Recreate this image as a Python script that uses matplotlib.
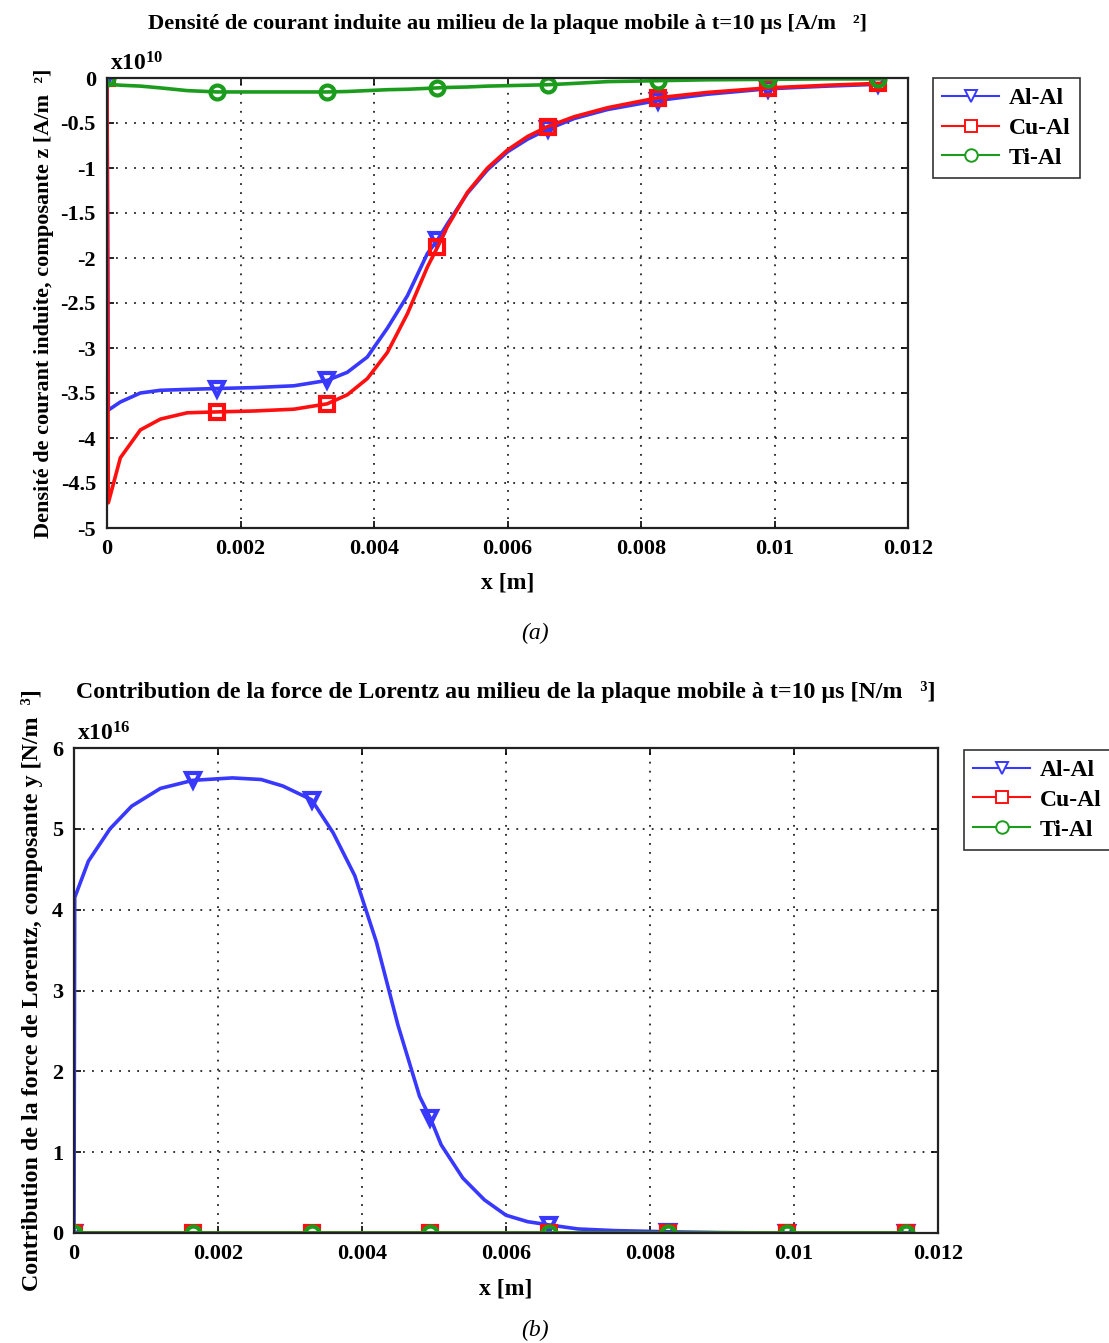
import numpy as np
import matplotlib
matplotlib.use("Agg")
import matplotlib.pyplot as plt
from matplotlib.lines import Line2D

plt.rcParams["font.family"] = ["Liberation Serif", "DejaVu Serif"]
plt.rcParams["font.weight"] = "bold"
plt.rcParams["axes.unicode_minus"] = False
plt.rcParams["mathtext.fontset"] = "custom"
plt.rcParams["mathtext.rm"] = "Liberation Serif:bold"
plt.rcParams["mathtext.bf"] = "Liberation Serif:bold"
plt.rcParams["mathtext.it"] = "Liberation Serif:italic:bold"

# ---- data ----------------------------------------------------------------
series_names = ["Al-Al", "Cu-Al", "Ti-Al"]
marker_x = [0.0, 0.00165, 0.0033, 0.00495, 0.0066, 0.00825, 0.0099, 0.01155]

# (a) induced current density, z component (units of 1e10 A/m^2)
x_a = [0.0, 0.00002, 0.0002, 0.0005, 0.0008, 0.0012, 0.00165, 0.0022, 0.0028,
       0.0033, 0.0036, 0.0039, 0.0042, 0.0045, 0.0048, 0.00495, 0.0051, 0.0054,
       0.0057, 0.006, 0.0063, 0.0066, 0.007, 0.0075, 0.00825, 0.009, 0.0099,
       0.0108, 0.01155, 0.0116]
j_alal = [0.0, -3.69, -3.60, -3.50, -3.47, -3.46, -3.45, -3.44, -3.42,
          -3.36, -3.27, -3.10, -2.78, -2.42, -1.95, -1.80, -1.62, -1.28,
          -1.02, -0.82, -0.68, -0.57, -0.45, -0.35, -0.25, -0.18, -0.12,
          -0.09, -0.07, -0.07]
j_cual = [0.0, -4.72, -4.22, -3.91, -3.79, -3.72, -3.71, -3.70, -3.68,
          -3.62, -3.52, -3.34, -3.05, -2.62, -2.10, -1.88, -1.65, -1.27,
          -1.00, -0.80, -0.65, -0.54, -0.43, -0.33, -0.22, -0.16, -0.11,
          -0.08, -0.06, -0.06]
j_tial = [0.0, -0.07, -0.08, -0.09, -0.11, -0.14, -0.155, -0.155, -0.155,
          -0.155, -0.15, -0.14, -0.13, -0.125, -0.115, -0.11, -0.105, -0.10,
          -0.09, -0.085, -0.08, -0.075, -0.06, -0.04, -0.03, -0.02, -0.015,
          -0.01, -0.01, -0.01]

# (b) Lorentz force contribution, y component (units of 1e16 N/m^3)
x_b = [0.0, 0.00001, 0.0002, 0.0005, 0.0008, 0.0012, 0.00165, 0.0022, 0.0026,
       0.0029, 0.0033, 0.0036, 0.0039, 0.0042, 0.0045, 0.0048, 0.00495, 0.0051,
       0.0054, 0.0057, 0.006, 0.0063, 0.0066, 0.007, 0.0075, 0.00825, 0.009,
       0.0099, 0.0108, 0.01155, 0.0116]
f_alal = [0.0, 4.15, 4.60, 5.00, 5.28, 5.50, 5.60, 5.63, 5.61,
          5.53, 5.36, 4.95, 4.42, 3.60, 2.57, 1.69, 1.42, 1.09,
          0.68, 0.41, 0.22, 0.14, 0.10, 0.05, 0.03, 0.015, 0.005,
          0.0, 0.0, 0.0, 0.0]
f_cual = [0.0] * len(x_b)
f_tial = [0.0] * len(x_b)

x_ticks = [0, 0.002, 0.004, 0.006, 0.008, 0.01, 0.012]
x_ticklabels = ["0", "0.002", "0.004", "0.006", "0.008", "0.01", "0.012"]
ya_ticks = [0, -0.5, -1, -1.5, -2, -2.5, -3, -3.5, -4, -4.5, -5]
ya_ticklabels = ["0", "-0.5", "-1", "-1.5", "-2", "-2.5", "-3", "-3.5", "-4", "-4.5", "-5"]
yb_ticks = [0, 1, 2, 3, 4, 5, 6]
yb_ticklabels = ["0", "1", "2", "3", "4", "5", "6"]

title_a = "Densité de courant induite au milieu de la plaque mobile à t=10 µs [A/m   ²]"
title_b = "Contribution de la force de Lorentz au milieu de la plaque mobile à t=10 µs [N/m   ³]"
ylabel_a = "Densité de courant induite, composante z [A/m  ²]"
ylabel_b = "Contribution de la force de Lorentz, composante y [N/m  ³]"

# ---- styles ---------------------------------------------------------------
colors = ["#3838ff", "#ff1010", "#1c9c1c"]
markers = ["v", "s", "o"]
FS = 16


def marker_idx(xs):
    return [i for i, v in enumerate(xs) if any(np.isclose(v, m) for m in marker_x)]


def style_axes(ax, yticks, yticklabels, ylim):
    ax.set_xlim(0, 0.012)
    ax.set_ylim(*ylim)
    ax.set_xticks(x_ticks)
    ax.set_xticklabels(x_ticklabels)
    ax.set_yticks(yticks)
    ax.set_yticklabels(yticklabels)
    ax.tick_params(direction="in", top=True, right=True, length=5, width=1.2,
                   labelsize=FS, pad=8)
    for lab in ax.get_xticklabels() + ax.get_yticklabels():
        lab.set_fontweight("bold")
    ax.grid(True, color="#222222", linestyle=(0, (1, 4)), linewidth=1.3)
    for s in ax.spines.values():
        s.set_linewidth(1.6)
        s.set_color("#222222")


def add_legend(ax, anchor):
    handles = [Line2D([0], [0], color=c, marker=m, markerfacecolor="white",
                      markeredgecolor=c, markersize=9, markeredgewidth=1.4, linewidth=1.5)
               for c, m in zip(colors, markers)]
    leg = ax.legend(handles, series_names, loc="upper left", bbox_to_anchor=anchor,
                    bbox_transform=ax.figure.transFigure, frameon=True, fancybox=False,
                    edgecolor="black", handlelength=2.4, handletextpad=0.4,
                    labelspacing=0.35, borderpad=0.4, borderaxespad=0,
                    prop={"weight": "bold", "size": FS + 1})
    leg.get_frame().set_linewidth(1.2)


def draw_series(ax, xs, series):
    for ys, c, m in zip(series, colors, markers):
        ax.plot(xs, ys, color=c, linewidth=2.6, marker=m, markevery=marker_idx(xs),
                markersize=10, markerfacecolor="none", markeredgewidth=3.0,
                markeredgecolor=c, clip_on=True)


fig = plt.figure(figsize=(11.09, 13.43), dpi=100)

# ---- panel (a) ------------------------------------------------------------
ax1 = fig.add_axes([107 / 1109, 1 - 528 / 1343, 801 / 1109, 450 / 1343])
draw_series(ax1, x_a, [j_alal, j_cual, j_tial])
style_axes(ax1, ya_ticks, ya_ticklabels, (-5, 0))
ax1.set_title(title_a, fontsize=16.2, fontweight="bold", pad=35)
ax1.set_xlabel("x [m]", fontsize=FS + 1, fontweight="bold", labelpad=10)
ax1.set_ylabel(ylabel_a, fontsize=16, fontweight="bold")
ax1.yaxis.set_label_coords(-0.066, 0.50)
ax1.text(0.004, 1.005, r"x10$^{10}$", transform=ax1.transAxes, fontsize=FS + 1,
         fontweight="bold", ha="left", va="bottom")
add_legend(ax1, (933 / 1109, 1 - 78 / 1343))
fig.text(535 / 1109, 1 - 633 / 1343, "(a)", fontsize=17, fontstyle="italic",
         fontweight="normal", ha="center", va="center")

# ---- panel (b) ------------------------------------------------------------
ax2 = fig.add_axes([74 / 1109, 1 - 1233 / 1343, 864 / 1109, 485 / 1343])
draw_series(ax2, x_b, [f_alal, f_cual, f_tial])
style_axes(ax2, yb_ticks, yb_ticklabels, (0, 6))
ax2.set_title(title_b, fontsize=17.2, fontweight="bold", pad=36)
ax2.set_xlabel("x [m]", fontsize=FS + 1, fontweight="bold", labelpad=10)
ax2.set_ylabel(ylabel_b, fontsize=17.3, fontweight="bold")
ax2.yaxis.set_label_coords(-0.036, 0.50)
ax2.text(0.004, 1.005, r"x10$^{16}$", transform=ax2.transAxes, fontsize=FS + 1,
         fontweight="bold", ha="left", va="bottom")
add_legend(ax2, (964 / 1109, 1 - 750 / 1343))
fig.text(535 / 1109, 1 - 1330 / 1343, "(b)", fontsize=17, fontstyle="italic",
         fontweight="normal", ha="center", va="center")

fig.savefig("out.png", dpi=100, facecolor="white")
